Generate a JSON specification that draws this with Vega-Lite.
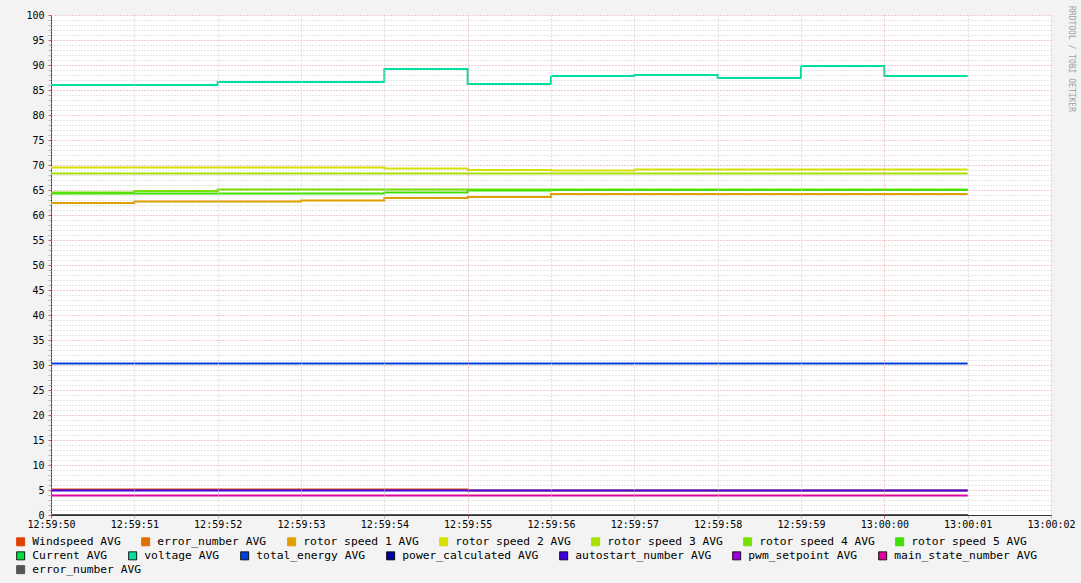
{
  "$schema": "https://vega.github.io/schema/vega-lite/v6.json",
  "width": 1000,
  "height": 500,
  "autosize": {"type": "none"},
  "padding": {"left": 51, "top": 15, "right": 30, "bottom": 68},
  "background": "#F3F3F3",
  "title": {
    "text": "RRDTOOL / TOBI OETIKER",
    "orient": "right",
    "anchor": "start",
    "frame": "group",
    "offset": -8,
    "dx": -9,
    "font": "DejaVu Sans Mono",
    "fontSize": 8,
    "fontWeight": "normal",
    "color": "#a0a0a0"
  },
  "config": {
    "view": {"fill": "white", "stroke": null},
    "axis": {
      "labelFont": "DejaVu Sans Mono",
      "labelFontSize": 10,
      "labelColor": "#000000",
      "domainColor": "#333333",
      "title": null
    },
    "legend": {
      "title": null,
      "orient": "none",
      "direction": "horizontal",
      "legendX": -36,
      "columnPadding": 18,
      "symbolType": "square",
      "symbolSize": 64,
      "symbolStrokeWidth": 1,
      "labelFont": "DejaVu Sans Mono",
      "labelFontSize": 11.3,
      "labelColor": "#000000",
      "labelOffset": 6,
      "labelLimit": 300
    }
  },
  "data": {
    "values": [
      {"t": "2024-01-01T12:59:50", "Windspeed AVG": 5.1, "error_number AVG": 0, "rotor speed 1 AVG": 62.4, "rotor speed 2 AVG": 69.5, "rotor speed 3 AVG": 68.3, "rotor speed 4 AVG": 64.5, "rotor speed 5 AVG": 64.3, "Current AVG": 0, "voltage AVG": 86.0, "total_energy AVG": 30.3, "power_calculated AVG": 0, "autostart_number AVG": 4.9, "pwm_setpoint AVG": 0, "main_state_number AVG": 3.9, "error_number AVG 2": 0},
      {"t": "2024-01-01T12:59:51", "Windspeed AVG": 5.1, "error_number AVG": 0, "rotor speed 1 AVG": 62.4, "rotor speed 2 AVG": 69.5, "rotor speed 3 AVG": 68.3, "rotor speed 4 AVG": 64.5, "rotor speed 5 AVG": 64.3, "Current AVG": 0, "voltage AVG": 86.0, "total_energy AVG": 30.3, "power_calculated AVG": 0, "autostart_number AVG": 4.9, "pwm_setpoint AVG": 0, "main_state_number AVG": 3.9, "error_number AVG 2": 0},
      {"t": "2024-01-01T12:59:52", "Windspeed AVG": 5.1, "error_number AVG": 0, "rotor speed 1 AVG": 62.7, "rotor speed 2 AVG": 69.5, "rotor speed 3 AVG": 68.3, "rotor speed 4 AVG": 64.8, "rotor speed 5 AVG": 64.3, "Current AVG": 0, "voltage AVG": 86.0, "total_energy AVG": 30.3, "power_calculated AVG": 0, "autostart_number AVG": 4.9, "pwm_setpoint AVG": 0, "main_state_number AVG": 3.9, "error_number AVG 2": 0},
      {"t": "2024-01-01T12:59:53", "Windspeed AVG": 5.1, "error_number AVG": 0, "rotor speed 1 AVG": 62.7, "rotor speed 2 AVG": 69.5, "rotor speed 3 AVG": 68.3, "rotor speed 4 AVG": 65.1, "rotor speed 5 AVG": 64.3, "Current AVG": 0, "voltage AVG": 86.6, "total_energy AVG": 30.3, "power_calculated AVG": 0, "autostart_number AVG": 4.9, "pwm_setpoint AVG": 0, "main_state_number AVG": 3.9, "error_number AVG 2": 0},
      {"t": "2024-01-01T12:59:54", "Windspeed AVG": 5.1, "error_number AVG": 0, "rotor speed 1 AVG": 62.9, "rotor speed 2 AVG": 69.5, "rotor speed 3 AVG": 68.3, "rotor speed 4 AVG": 65.1, "rotor speed 5 AVG": 64.3, "Current AVG": 0, "voltage AVG": 86.6, "total_energy AVG": 30.3, "power_calculated AVG": 0, "autostart_number AVG": 4.9, "pwm_setpoint AVG": 0, "main_state_number AVG": 3.9, "error_number AVG 2": 0},
      {"t": "2024-01-01T12:59:55", "Windspeed AVG": 5.1, "error_number AVG": 0, "rotor speed 1 AVG": 63.4, "rotor speed 2 AVG": 69.3, "rotor speed 3 AVG": 68.3, "rotor speed 4 AVG": 65.1, "rotor speed 5 AVG": 64.5, "Current AVG": 0, "voltage AVG": 89.2, "total_energy AVG": 30.3, "power_calculated AVG": 0, "autostart_number AVG": 4.9, "pwm_setpoint AVG": 0, "main_state_number AVG": 3.9, "error_number AVG 2": 0},
      {"t": "2024-01-01T12:59:56", "Windspeed AVG": 4.9, "error_number AVG": 0, "rotor speed 1 AVG": 63.6, "rotor speed 2 AVG": 69.0, "rotor speed 3 AVG": 68.3, "rotor speed 4 AVG": 65.1, "rotor speed 5 AVG": 64.9, "Current AVG": 0, "voltage AVG": 86.2, "total_energy AVG": 30.3, "power_calculated AVG": 0, "autostart_number AVG": 4.9, "pwm_setpoint AVG": 0, "main_state_number AVG": 3.9, "error_number AVG 2": 0},
      {"t": "2024-01-01T12:59:57", "Windspeed AVG": 4.9, "error_number AVG": 0, "rotor speed 1 AVG": 64.2, "rotor speed 2 AVG": 68.9, "rotor speed 3 AVG": 68.3, "rotor speed 4 AVG": 65.1, "rotor speed 5 AVG": 65.0, "Current AVG": 0, "voltage AVG": 87.8, "total_energy AVG": 30.3, "power_calculated AVG": 0, "autostart_number AVG": 4.9, "pwm_setpoint AVG": 0, "main_state_number AVG": 3.9, "error_number AVG 2": 0},
      {"t": "2024-01-01T12:59:58", "Windspeed AVG": 4.9, "error_number AVG": 0, "rotor speed 1 AVG": 64.2, "rotor speed 2 AVG": 69.1, "rotor speed 3 AVG": 68.3, "rotor speed 4 AVG": 65.1, "rotor speed 5 AVG": 65.0, "Current AVG": 0, "voltage AVG": 88.0, "total_energy AVG": 30.3, "power_calculated AVG": 0, "autostart_number AVG": 4.9, "pwm_setpoint AVG": 0, "main_state_number AVG": 3.9, "error_number AVG 2": 0},
      {"t": "2024-01-01T12:59:59", "Windspeed AVG": 4.9, "error_number AVG": 0, "rotor speed 1 AVG": 64.2, "rotor speed 2 AVG": 69.1, "rotor speed 3 AVG": 68.3, "rotor speed 4 AVG": 65.1, "rotor speed 5 AVG": 65.0, "Current AVG": 0, "voltage AVG": 87.4, "total_energy AVG": 30.3, "power_calculated AVG": 0, "autostart_number AVG": 4.9, "pwm_setpoint AVG": 0, "main_state_number AVG": 3.9, "error_number AVG 2": 0},
      {"t": "2024-01-01T13:00:00", "Windspeed AVG": 4.9, "error_number AVG": 0, "rotor speed 1 AVG": 64.2, "rotor speed 2 AVG": 69.1, "rotor speed 3 AVG": 68.3, "rotor speed 4 AVG": 65.1, "rotor speed 5 AVG": 65.0, "Current AVG": 0, "voltage AVG": 89.8, "total_energy AVG": 30.3, "power_calculated AVG": 0, "autostart_number AVG": 4.9, "pwm_setpoint AVG": 0, "main_state_number AVG": 3.9, "error_number AVG 2": 0},
      {"t": "2024-01-01T13:00:01", "Windspeed AVG": 4.9, "error_number AVG": 0, "rotor speed 1 AVG": 64.2, "rotor speed 2 AVG": 69.1, "rotor speed 3 AVG": 68.3, "rotor speed 4 AVG": 65.1, "rotor speed 5 AVG": 65.0, "Current AVG": 0, "voltage AVG": 87.8, "total_energy AVG": 30.3, "power_calculated AVG": 0, "autostart_number AVG": 4.9, "pwm_setpoint AVG": 0, "main_state_number AVG": 3.9, "error_number AVG 2": 0}
    ]
  },
  "layer": [
    {
      "transform": [
        {"fold": ["Windspeed AVG", "error_number AVG", "rotor speed 1 AVG", "rotor speed 2 AVG", "rotor speed 3 AVG", "rotor speed 4 AVG", "rotor speed 5 AVG", "Current AVG", "voltage AVG", "total_energy AVG", "power_calculated AVG", "autostart_number AVG", "pwm_setpoint AVG", "main_state_number AVG"], "as": ["series", "value"]}
      ],
      "mark": {"type": "line", "interpolate": "step-before", "strokeWidth": 2, "strokeCap": "butt", "clip": true},
      "encoding": {
        "x": {
          "field": "t",
          "type": "temporal",
          "scale": {"domain": [{"year": 2024, "month": 1, "date": 1, "hours": 12, "minutes": 59, "seconds": 50}, {"year": 2024, "month": 1, "date": 1, "hours": 13, "minutes": 0, "seconds": 2}]},
          "axis": {
            "format": "%H:%M:%S",
            "values": [
              {"year": 2024, "month": 1, "date": 1, "hours": 12, "minutes": 59, "seconds": 50},
              {"year": 2024, "month": 1, "date": 1, "hours": 12, "minutes": 59, "seconds": 51},
              {"year": 2024, "month": 1, "date": 1, "hours": 12, "minutes": 59, "seconds": 52},
              {"year": 2024, "month": 1, "date": 1, "hours": 12, "minutes": 59, "seconds": 53},
              {"year": 2024, "month": 1, "date": 1, "hours": 12, "minutes": 59, "seconds": 54},
              {"year": 2024, "month": 1, "date": 1, "hours": 12, "minutes": 59, "seconds": 55},
              {"year": 2024, "month": 1, "date": 1, "hours": 12, "minutes": 59, "seconds": 56},
              {"year": 2024, "month": 1, "date": 1, "hours": 12, "minutes": 59, "seconds": 57},
              {"year": 2024, "month": 1, "date": 1, "hours": 12, "minutes": 59, "seconds": 58},
              {"year": 2024, "month": 1, "date": 1, "hours": 12, "minutes": 59, "seconds": 59},
              {"year": 2024, "month": 1, "date": 1, "hours": 13, "minutes": 0, "seconds": 0},
              {"year": 2024, "month": 1, "date": 1, "hours": 13, "minutes": 0, "seconds": 1},
              {"year": 2024, "month": 1, "date": 1, "hours": 13, "minutes": 0, "seconds": 2}
            ],
            "labelFlush": false,
            "labelOverlap": false,
            "labelPadding": 1,
            "tickSize": 3,
            "zindex": 1,
            "grid": true,
            "gridDash": [1, 2],
            "gridColor": {"condition": {"test": "seconds(datum.value) % 5 === 0", "value": "#e09a9a"}, "value": "#c8c8c8"},
            "tickColor": {"condition": {"test": "seconds(datum.value) % 5 === 0", "value": "#c06060"}, "value": "#bbbbbb"}
          }
        },
        "y": {
          "field": "value",
          "type": "quantitative",
          "scale": {"domain": [0, 100], "nice": false},
          "axis": {
            "tickCount": 100,
            "labelExpr": "datum.value % 5 === 0 ? datum.label : ''",
            "labelPadding": 4,
            "tickSize": 3,
            "grid": true,
            "gridDash": [1, 2],
            "gridColor": {"condition": {"test": "datum.value % 5 === 0", "value": "#e09a9a"}, "value": "#cccccc"},
            "tickColor": {"condition": {"test": "datum.value % 5 === 0", "value": "#c06060"}, "value": "#bbbbbb"}
          }
        },
        "color": {
          "field": "series",
          "type": "nominal",
          "scale": {
            "domain": ["Windspeed AVG", "error_number AVG", "rotor speed 1 AVG", "rotor speed 2 AVG", "rotor speed 3 AVG", "rotor speed 4 AVG", "rotor speed 5 AVG", "Current AVG", "voltage AVG", "total_energy AVG", "power_calculated AVG", "autostart_number AVG", "pwm_setpoint AVG", "main_state_number AVG"],
            "range": ["#E04000", "#E07000", "#E0A000", "#D8E000", "#A8E000", "#78E000", "#40E000", "#00E040", "#00E0A0", "#0040E0", "#0000A0", "#4000E0", "#A000E0", "#E000A0"]
          },
          "legend": {
            "values": ["Windspeed AVG", "error_number AVG", "rotor speed 1 AVG", "rotor speed 2 AVG", "rotor speed 3 AVG", "rotor speed 4 AVG", "rotor speed 5 AVG"],
            "columns": 7,
            "legendY": 521,
            "encode": {"symbols": {"update": {"fill": {"scale": "color", "field": "value"}, "stroke": {"value": "#000000"}, "strokeWidth": {"value": 1}, "opacity": {"value": 1}}}}
          }
        },
        "strokeDash": {
          "field": "series",
          "type": "nominal",
          "scale": {
            "domain": ["Current AVG", "voltage AVG", "total_energy AVG", "power_calculated AVG", "autostart_number AVG", "pwm_setpoint AVG", "main_state_number AVG"],
            "range": [[1, 0]]
          },
          "legend": {
            "columns": 7,
            "legendY": 535,
            "encode": {"symbols": {"update": {"fill": {"scale": "color", "field": "value"}, "stroke": {"value": "#000000"}, "strokeWidth": {"value": 1}, "strokeDash": {"value": [1, 0]}, "opacity": {"value": 1}}}}
          }
        }
      }
    },
    {
      "mark": {"type": "line", "interpolate": "step-before", "strokeWidth": 2, "strokeCap": "butt", "clip": true},
      "encoding": {
        "x": {"field": "t", "type": "temporal"},
        "y": {"field": "error_number AVG 2", "type": "quantitative"},
        "stroke": {
          "datum": "error_number AVG",
          "type": "nominal",
          "scale": {"domain": ["error_number AVG"], "range": ["#555555"]},
          "legend": {
            "legendY": 549,
            "encode": {"symbols": {"update": {"fill": {"scale": "stroke", "field": "value"}, "stroke": {"value": "#000000"}, "strokeWidth": {"value": 1}, "opacity": {"value": 1}}}}
          }
        }
      }
    }
  ]
}
